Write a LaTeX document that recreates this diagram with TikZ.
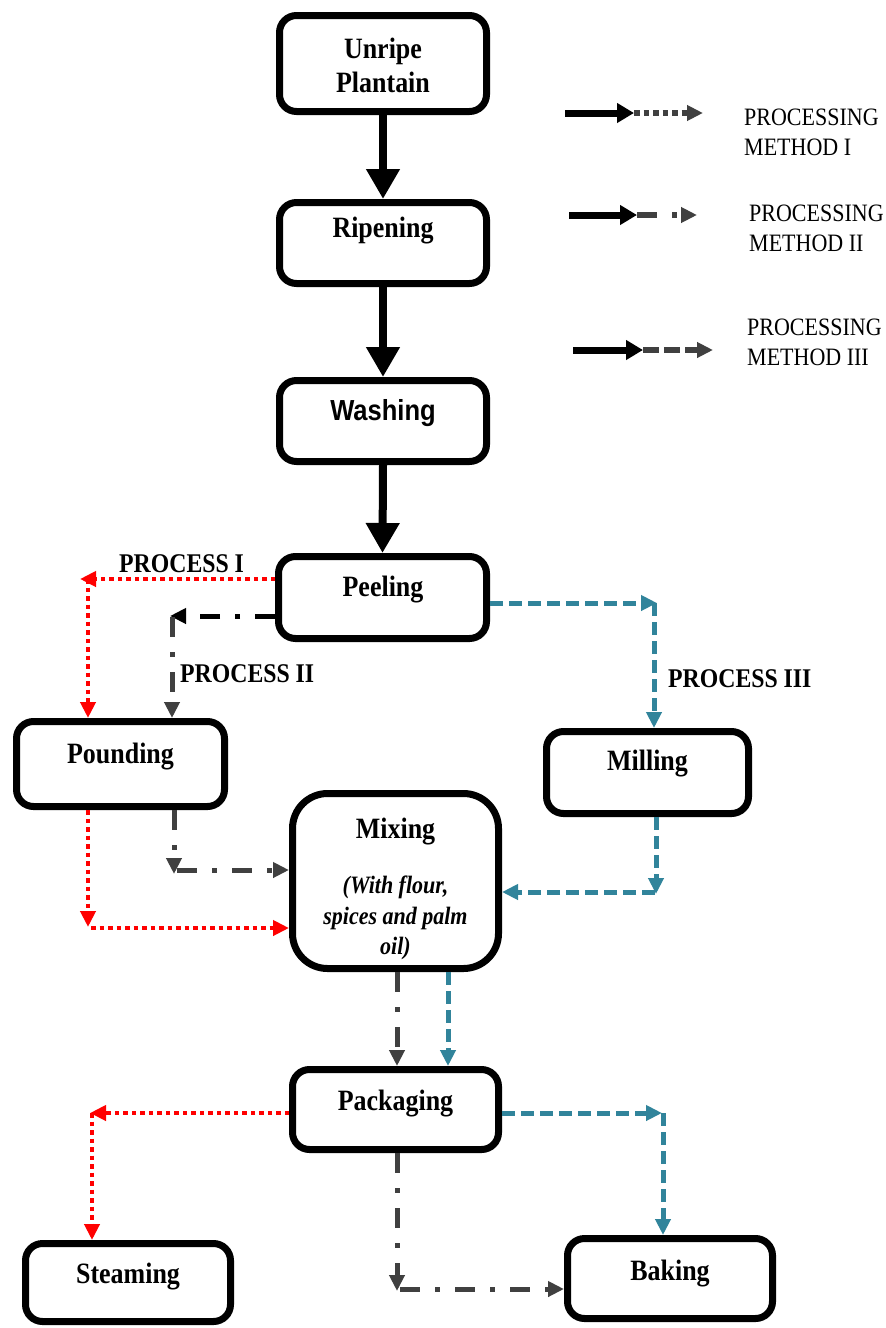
\documentclass[tikz,border=0pt]{standalone}
\usepackage{fontspec}
\setmainfont{Liberation Serif}[FakeStretch=0.88]
\newfontfamily\sansfam{Liberation Sans}[FakeStretch=0.88]
\usetikzlibrary{arrows.meta}
\definecolor{tealc}{HTML}{31849B}
\definecolor{dgray}{HTML}{404040}
\definecolor{redc}{HTML}{FF0000}
\begin{document}
\begin{tikzpicture}[x=1pt,y=-1pt,
  box/.style={draw, line width=7pt, rounded corners=17pt, fill=white, inner sep=0pt},
  ttl/.style={font=\bfseries\fontsize{29.5}{32}\selectfont, inner sep=0pt, anchor=base},
  itl/.style={font=\bfseries\itshape\fontsize{25}{28}\selectfont, inner sep=0pt, anchor=base},
  big/.style={line width=8pt, -{Triangle[length=30pt,width=32pt]}},
  legblk/.style={line width=7pt, -{Triangle[length=17pt,width=19pt]}},
  tipc/.style={-{Triangle[length=16pt,width=15pt]}},
  pI/.style={redc, line width=4.5pt, dash pattern=on 4.5pt off 4pt, tipc},
  pII/.style={dgray, line width=5pt, dash pattern=on 20pt off 15pt on 5pt off 15pt, tipc},
  pIII/.style={tealc, line width=5pt, dash pattern=on 13pt off 6pt, tipc},
  leg/.style={font=\fontsize{25}{28}\selectfont, anchor=base west, inner sep=0pt},
  plab/.style={font=\bfseries\fontsize{27}{30}\selectfont, anchor=base west, inner sep=0pt}
]
\useasboundingbox (0,0) rectangle (886,1328);

% ---- boxes ----
\node[box, minimum width=207pt, minimum height=96pt] (unripe) at (383,63.5) {};
\node[ttl] (unripeT1) at (383,58) {Unripe};
\node[ttl] (unripeT2) at (383,92) {Plantain};

\node[box, minimum width=207pt, minimum height=81pt] (rip) at (383,243) {};
\node[ttl] (ripT) at (383,237) {Ripening};

\node[box, minimum width=207pt, minimum height=81pt] (wash) at (383,421) {};
\node[ttl, font=\sansfam\bfseries\fontsize{29}{32}\selectfont] (washT) at (383,420) {Washing};

\node[box, minimum width=208pt, minimum height=82pt] (peel) at (382.5,597.5) {};
\node[ttl] (peelT) at (383,596) {Peeling};

\node[box, minimum width=208pt, minimum height=85pt] (pound) at (120.5,764) {};
\node[ttl] (poundT) at (120.5,763) {Pounding};

\node[box, minimum width=202pt, minimum height=82pt] (mill) at (647.5,772.5) {};
\node[ttl] (millT) at (647.5,770) {Milling};

\node[box, rounded corners=35pt, minimum width=206pt, minimum height=175pt] (mix) at (395.5,881) {};
\node[ttl] (mixT) at (395.5,838) {Mixing};
\node[itl] (mixT1) at (395.5,893) {(With flour,};
\node[itl] (mixT2) at (395.5,924) {spices and palm};
\node[itl] (mixT3) at (395.5,954) {oil)};

\node[box, minimum width=206pt, minimum height=80pt] (pack) at (395.5,1109.5) {};
\node[ttl] (packT) at (395.5,1110) {Packaging};

\node[box, minimum width=205pt, minimum height=78pt] (steam) at (128,1282.5) {};
\node[ttl] (steamT) at (128,1283) {Steaming};

\node[box, minimum width=205pt, minimum height=80pt] (bake) at (670,1278.5) {};
\node[ttl] (bakeT) at (670,1280) {Baking};

% ---- main flow ----
\draw[big] (unripe) -- (rip);
\draw[big] (rip) -- (wash);
\draw[big] (wash.south) -- (peel.north);

% ---- legend ----
\coordinate (l1a) at (565,113); \coordinate (l1b) at (634,113); \coordinate (l1c) at (703,113);
\draw[legblk] (l1a) -- (l1b);
\draw[pI, dgray, line width=5.5pt, dash pattern=on 5.5pt off 4pt] (l1b) -- (l1c);
\node[leg] (leg1a) at (744,125) {PROCESSING};
\node[leg] (leg1b) at (744,155) {METHOD I};

\coordinate (l2a) at (569,215); \coordinate (l2b) at (637,215); \coordinate (l2c) at (697,215);
\draw[legblk] (l2a) -- (l2b);
\draw[pII, line width=5.5pt] (l2b) -- (l2c);
\node[leg] (leg2a) at (749,221) {PROCESSING};
\node[leg] (leg2b) at (749,251) {METHOD II};

\coordinate (l3a) at (573,350); \coordinate (l3b) at (643,350); \coordinate (l3c) at (713,350);
\draw[legblk] (l3a) -- (l3b);
\draw[dgray, line width=5.5pt, dash pattern=on 16pt off 5pt, tipc] (l3b) -- (l3c);
\node[leg] (leg3a) at (747,335) {PROCESSING};
\node[leg] (leg3b) at (747,365) {METHOD III};

% ---- process labels ----
\node[plab] (labI) at (119,572) {PROCESS I};
\node[plab] (labII) at (180,682) {PROCESS II};
\node[plab] (labIII) at (668,687) {PROCESS III};

% ---- Peeling outputs ----
\coordinate (cIa) at (80,579); \coordinate (cIb) at (88,579);
\draw[pI] (peel.west |- cIa) -- (cIa);
\draw[pI] (cIb) -- (cIb |- pound.north);

\coordinate (cIIa) at (170,616); \coordinate (cIIb) at (172,617);
\draw[pII, black] (peel.west |- cIIa) -- (cIIa);
\draw[pII] (cIIb) -- (cIIb |- pound.north);

\coordinate (cIIIa) at (657,603); \coordinate (cIIIb) at (654,603);
\draw[pIII] (peel.east |- cIIIa) -- (cIIIa);
\draw[pIII] (cIIIb) -- (cIIIb |- mill.north);

% ---- into Mixing ----
\coordinate (mRa) at (88,927); \coordinate (mRb) at (91,928);
\draw[pI] (mRa |- pound.south) -- (mRa);
\draw[pI] (mRb) -- (mix.west |- mRb);

\coordinate (mGa) at (174,874); \coordinate (mGb) at (177,870);
\draw[pII] (mGa |- pound.south) -- (mGa);
\draw[pII] (mGb) -- (mix.west |- mGb);

\coordinate (mTa) at (656,894); \coordinate (mTb) at (655,892);
\draw[pIII] (mTa |- mill.south) -- (mTa);
\draw[pIII] (mTb) -- (mix.east |- mTb);

% ---- Mixing to Packaging ----
\coordinate (kG) at (397,1000); \coordinate (kT) at (448,1000);
\draw[pII] (kG |- mix.south) -- (kG |- pack.north);
\draw[pIII] (kT |- mix.south) -- (kT |- pack.north);

% ---- Packaging outputs ----
\coordinate (sRa) at (90,1113); \coordinate (sRb) at (92,1113);
\draw[pI] (pack.west |- sRa) -- (sRa);
\draw[pI] (sRb) -- (sRb |- steam.north);

\coordinate (bTa) at (662,1113); \coordinate (bTb) at (663,1113);
\draw[pIII] (pack.east |- bTa) -- (bTa);
\draw[pIII] (bTb) -- (bTb |- bake.north);

\coordinate (bGa) at (397,1291); \coordinate (bGb) at (400,1289);
\draw[pII] (bGa |- pack.south) -- (bGa);
\draw[pII] (bGb) -- (bake.west |- bGb);
\end{tikzpicture}
\end{document}
